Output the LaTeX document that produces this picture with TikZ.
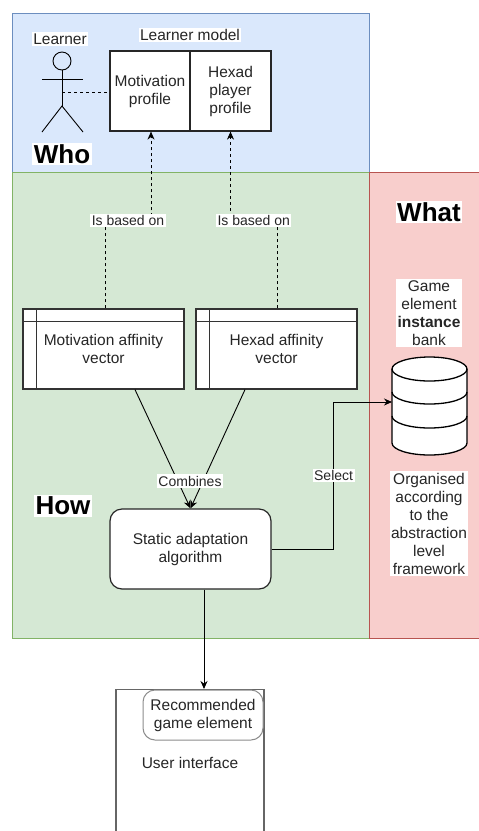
\documentclass[tikz,border=0pt]{standalone}
\usepackage{fontspec}
\setmainfont{Liberation Sans}
\usetikzlibrary{arrows.meta,calc}
\definecolor{bluefill}{HTML}{DAE8FC}
\definecolor{blueline}{HTML}{6C8EBF}
\definecolor{greenfill}{HTML}{D5E8D4}
\definecolor{greenline}{HTML}{82B366}
\definecolor{redfill}{HTML}{F8CECC}
\definecolor{redline}{HTML}{B85450}
\definecolor{txt}{HTML}{262626}
\begin{document}
\begin{tikzpicture}[x=1pt,y=-1pt,
  every node/.style={font=\fontsize{15.5}{18}\selectfont, align=center, text=txt},
  region/.style={line width=1pt},
  box/.style={draw=black!85, line width=1.2pt, fill=white, inner sep=0pt},
  vecbox/.style={draw=black!80, line width=1.2pt, fill=white, minimum width=161, minimum height=80, inner sep=0pt},
  algo/.style={draw=black!85, line width=1.2pt, fill=white, rounded corners=12pt, minimum width=161, minimum height=80, inner sep=0pt},
  uibox/.style={draw=black!60, line width=1.2pt, fill=white, inner sep=0pt},
  recbox/.style={draw=black!45, line width=1pt, fill=white, rounded corners=12pt, inner sep=0pt},
  lbl/.style={fill=white, inner sep=1.5pt, font=\fontsize{14}{17}\selectfont},
  wlbl/.style={fill=white, inner sep=1.5pt},
  big/.style={fill=white, inner sep=1.5pt, font=\fontsize{26}{28}\selectfont\bfseries, text=black},
  arr/.style={line width=0.9pt, draw=black, -{Stealth[length=8pt,width=7pt]}},
  dep/.style={line width=0.9pt, draw=black, dash pattern=on 3pt off 3pt, -{Stealth[length=8pt,width=7pt]}},
]
\useasboundingbox (0,0) rectangle (479,831);

% regions
\draw[region, fill=bluefill, draw=blueline] (12,13) rectangle (369,172);
\draw[region, fill=greenfill, draw=greenline] (12,172) rectangle (369,638);
\draw[region, fill=redfill, draw=redline] (369,172) rectangle (483,638);

% Who
\node[wlbl] (learnerlbl) at (60,39) {Learner};
\draw[line width=0.9pt] (62,61) circle (9);
\draw[line width=0.9pt] (62,70) -- (62,106);
\draw[line width=0.9pt] (42,79) -- (83,79);
\draw[line width=0.9pt] (42,132) -- (62,106) -- (83,132);
\coordinate (actor) at (62,92);
\node[big] (who) at (62,154) {Who};

\node[wlbl] (lmlbl) at (190,35) {Learner model};
\node[box, minimum width=80, minimum height=80] (mp) at (150,91) {Motivation\\profile};
\node[box, minimum width=81, minimum height=80] (hp) at (230.5,91) {Hexad\\player\\profile};
\draw[line width=0.9pt, dash pattern=on 3pt off 3pt] (actor) -- (actor -| mp.west);

% How
\node[vecbox] (mav) at (103.5,349) {Motivation affinity\\vector};
\draw[line width=1.1pt, black!80] ($(mav.north west)+(0,13)$) -- ($(mav.north east)+(0,13)$);
\draw[line width=1.1pt, black!80] ($(mav.north west)+(14,0)$) -- ($(mav.south west)+(14,0)$);
\node[vecbox] (hav) at (276.5,349) {Hexad affinity\\vector};
\draw[line width=1.1pt, black!80] ($(hav.north west)+(0,13)$) -- ($(hav.north east)+(0,13)$);
\draw[line width=1.1pt, black!80] ($(hav.north west)+(14,0)$) -- ($(hav.south west)+(14,0)$);

\draw[dep] ($(mav.north)+(1.5,0)$) -- ++(0,-88) -| node[pos=0.25, lbl] {Is based on} ($(mp.south)+(1,0)$);
\draw[dep] ($(hav.north)+(0.5,0)$) -- ++(0,-88) -| node[pos=0.25, lbl] {Is based on} (hp.south);

\node[algo] (saa) at (190.5,549) {Static adaptation\\algorithm};
\draw[arr] ($(mav.south)+(31.5,0)$) -- (saa.north);
\draw[arr] ($(hav.south)+(-31.5,0)$) -- (saa.north);
\node[lbl] (comb) at (190,481) {Combines};
\node[big] (how) at (63,506) {How};

% What
\node[big] (what) at (429,212) {What};
\node[wlbl] (dbt) at (429,313) {Game\\element\\\textbf{instance}\\bank};
\filldraw[fill=white, draw=black, line width=1.3pt]
  (392,369) -- (392,443) arc[start angle=180, end angle=0, x radius=37.5, y radius=12]
  -- (467,369) arc[start angle=0, end angle=-180, x radius=37.5, y radius=12] -- cycle;
\draw[line width=1.3pt] (392,369) arc[start angle=180, end angle=0, x radius=37.5, y radius=12];
\draw[line width=1.3pt] (392,392) arc[start angle=180, end angle=0, x radius=37.5, y radius=12];
\draw[line width=1.3pt] (392,416) arc[start angle=180, end angle=0, x radius=37.5, y radius=12];
\coordinate (dbin) at (392,402);
\node[wlbl] (org) at (429,523.5) {Organised\\according\\to the\\abstraction\\level\\framework};

\draw[arr] (saa.east) -- ++(62,0) |- node[pos=0.25, lbl] {Select} (dbin);

% UI
\node[uibox, minimum width=148, minimum height=160, anchor=north] (ui) at (190,689) {};
\node (uilbl) at (190,763) {User interface};
\node[recbox, minimum width=120, minimum height=50] (rec) at (203,715) {Recommended\\game element};
\draw[arr] ($(saa.south)+(13.5,0)$) -- (ui.north -| {$(saa.south)+(13.5,0)$});
\end{tikzpicture}
\end{document}
